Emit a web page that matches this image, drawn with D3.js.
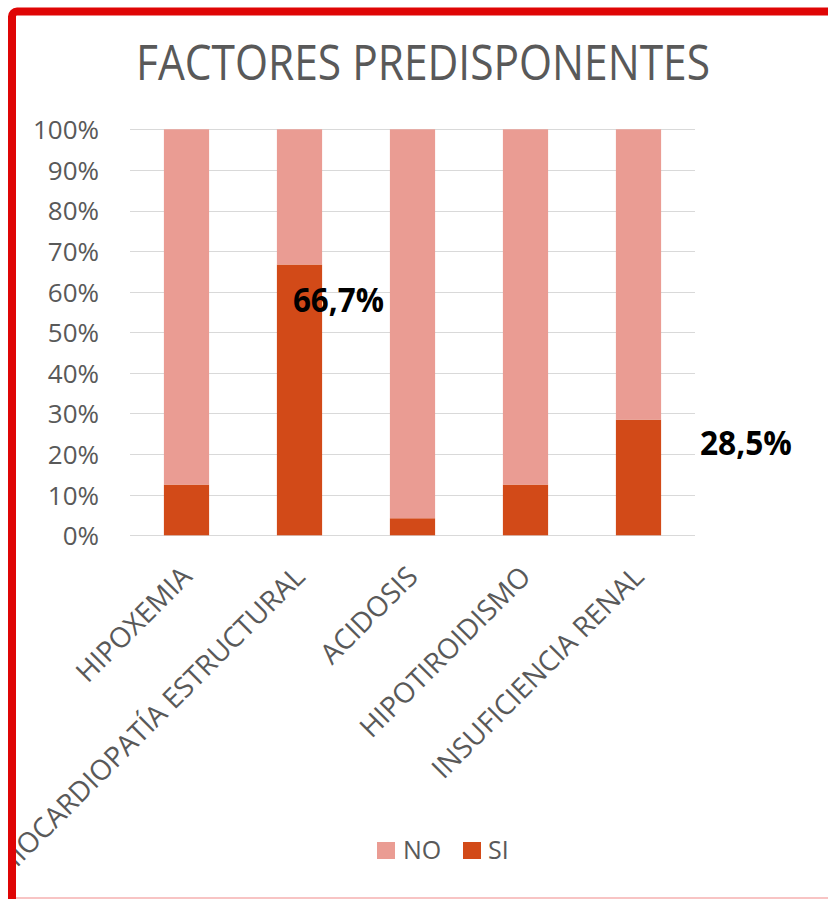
<!DOCTYPE html>
<html>
<head>
<meta charset="utf-8">
<script src="https://cdn.jsdelivr.net/npm/d3@7"></script>
<style>
  html, body { margin: 0; padding: 0; background: #ffffff; }
  svg { display: block; }
  text { font-family: "Open Sans", "Noto Sans", sans-serif; }
</style>
</head>
<body>
<svg id="chart" width="828" height="899"></svg>
<script>
// ---- data ----
const title = "FACTORES PREDISPONENTES";
const categories = ["HIPOXEMIA", "MIOCARDIOPATÍA ESTRUCTURAL", "ACIDOSIS", "HIPOTIROIDISMO", "INSUFICIENCIA RENAL"];
const seriesNames = ["NO", "SI"];
const siValues = [12.5, 66.7, 4.2, 12.5, 28.5];
const noValues = [87.5, 33.3, 95.8, 87.5, 71.5];
const yTicks = [0, 10, 20, 30, 40, 50, 60, 70, 80, 90, 100];
const dataLabels = [
  { category: "MIOCARDIOPATÍA ESTRUCTURAL", value: 66.7, text: "66,7%" },
  { category: "INSUFICIENCIA RENAL", value: 28.5, text: "28,5%" }
];

// ---- drawing ----
const colors = { NO: "#EA9C93", SI: "#D24A18" };
const textGray = "#595959";
const svg = d3.select("#chart");

// title
svg.append("text")
  .attr("x", 423).attr("y", 79.5)
  .attr("text-anchor", "middle")
  .attr("font-size", 50)
  .attr("fill", textGray)
  .attr("textLength", 574).attr("lengthAdjust", "spacingAndGlyphs")
  .text(title);

const x = d3.scaleBand().domain(categories).range([130, 695]).paddingInner(0.6).paddingOuter(0.3);
const y = d3.scaleLinear().domain([0, 100]).range([535.3, 129.3]);

// gridlines
svg.append("g").selectAll("line").data(yTicks).join("line")
  .attr("x1", 130).attr("x2", 695)
  .attr("y1", d => Math.round(y(d)) + 0.5).attr("y2", d => Math.round(y(d)) + 0.5)
  .attr("stroke", "#D9D9D9").attr("stroke-width", 1.2);

// y axis
const yAxis = svg.append("g").attr("transform", "translate(99,0)")
  .call(d3.axisLeft(y).tickValues(yTicks).tickSize(0).tickPadding(0).tickFormat(d => d + "%"));
yAxis.select(".domain").remove();
yAxis.selectAll("text")
  .attr("font-size", 26).attr("fill", textGray)
  .attr("font-family", "'Open Sans', sans-serif")
  .attr("dy", "0.36em");

// stacked bars
const rows = categories.map((c, i) => ({ cat: c, SI: siValues[i], NO: noValues[i] }));
const stack = d3.stack().keys(["SI", "NO"]);
const stacked = stack(rows);
svg.append("g").selectAll("g").data(stacked).join("g")
  .attr("fill", d => colors[d.key])
  .selectAll("rect").data(d => d).join("rect")
  .attr("x", d => x(d.data.cat))
  .attr("width", x.bandwidth())
  .attr("y", d => y(d[1]))
  .attr("height", d => y(d[0]) - y(d[1]));

// x axis labels
const xAxis = svg.append("g").attr("transform", "translate(0,535.3)")
  .call(d3.axisBottom(x).tickSize(0));
xAxis.select(".domain").remove();
xAxis.selectAll("text")
  .attr("font-size", 28).attr("fill", textGray)
  .attr("font-family", "'Open Sans', sans-serif")
  .attr("text-anchor", "end")
  .attr("x", 0).attr("y", 0).attr("dy", 0)
  .attr("transform", "translate(7,43) rotate(-45)");

// data labels
const labelOffsets = [{ dx: 16, dy: 47.5, w: 91 }, { dx: 84, dy: 35, w: 92 }];
svg.append("g").selectAll("text").data(dataLabels).join("text")
  .attr("x", (d, i) => x(d.category) + labelOffsets[i].dx)
  .attr("y", (d, i) => y(d.value) + labelOffsets[i].dy)
  .attr("font-size", 34).attr("font-weight", "bold").attr("fill", "#000000")
  .attr("textLength", (d, i) => labelOffsets[i].w).attr("lengthAdjust", "spacingAndGlyphs")
  .text(d => d.text);

// legend
const legendPos = [{ sx: 377, tx: 403 }, { sx: 463, tx: 488 }];
const legend = svg.append("g").selectAll("g").data(seriesNames).join("g");
legend.append("rect")
  .attr("x", (d, i) => legendPos[i].sx).attr("y", 842)
  .attr("width", 18).attr("height", 17)
  .attr("fill", d => colors[d]);
legend.append("text")
  .attr("x", (d, i) => legendPos[i].tx).attr("y", 858.5)
  .attr("font-size", 25).attr("fill", textGray)
  .text(d => d);

// frame (drawn last so it crops overflowing text)
svg.append("rect")
  .attr("x", 0).attr("y", 0).attr("width", 8).attr("height", 899).attr("fill", "#ffffff");
svg.append("rect")
  .attr("x", 12).attr("y", 11.5).attr("width", 1200).attr("height", 1200)
  .attr("rx", 5).attr("fill", "none").attr("stroke", "#DF0505").attr("stroke-width", 8);
svg.append("line")
  .attr("x1", 16).attr("x2", 828).attr("y1", 898).attr("y2", 898)
  .attr("stroke", "#F6B0B0").attr("stroke-width", 1.5);
</script>
</body>
</html>
